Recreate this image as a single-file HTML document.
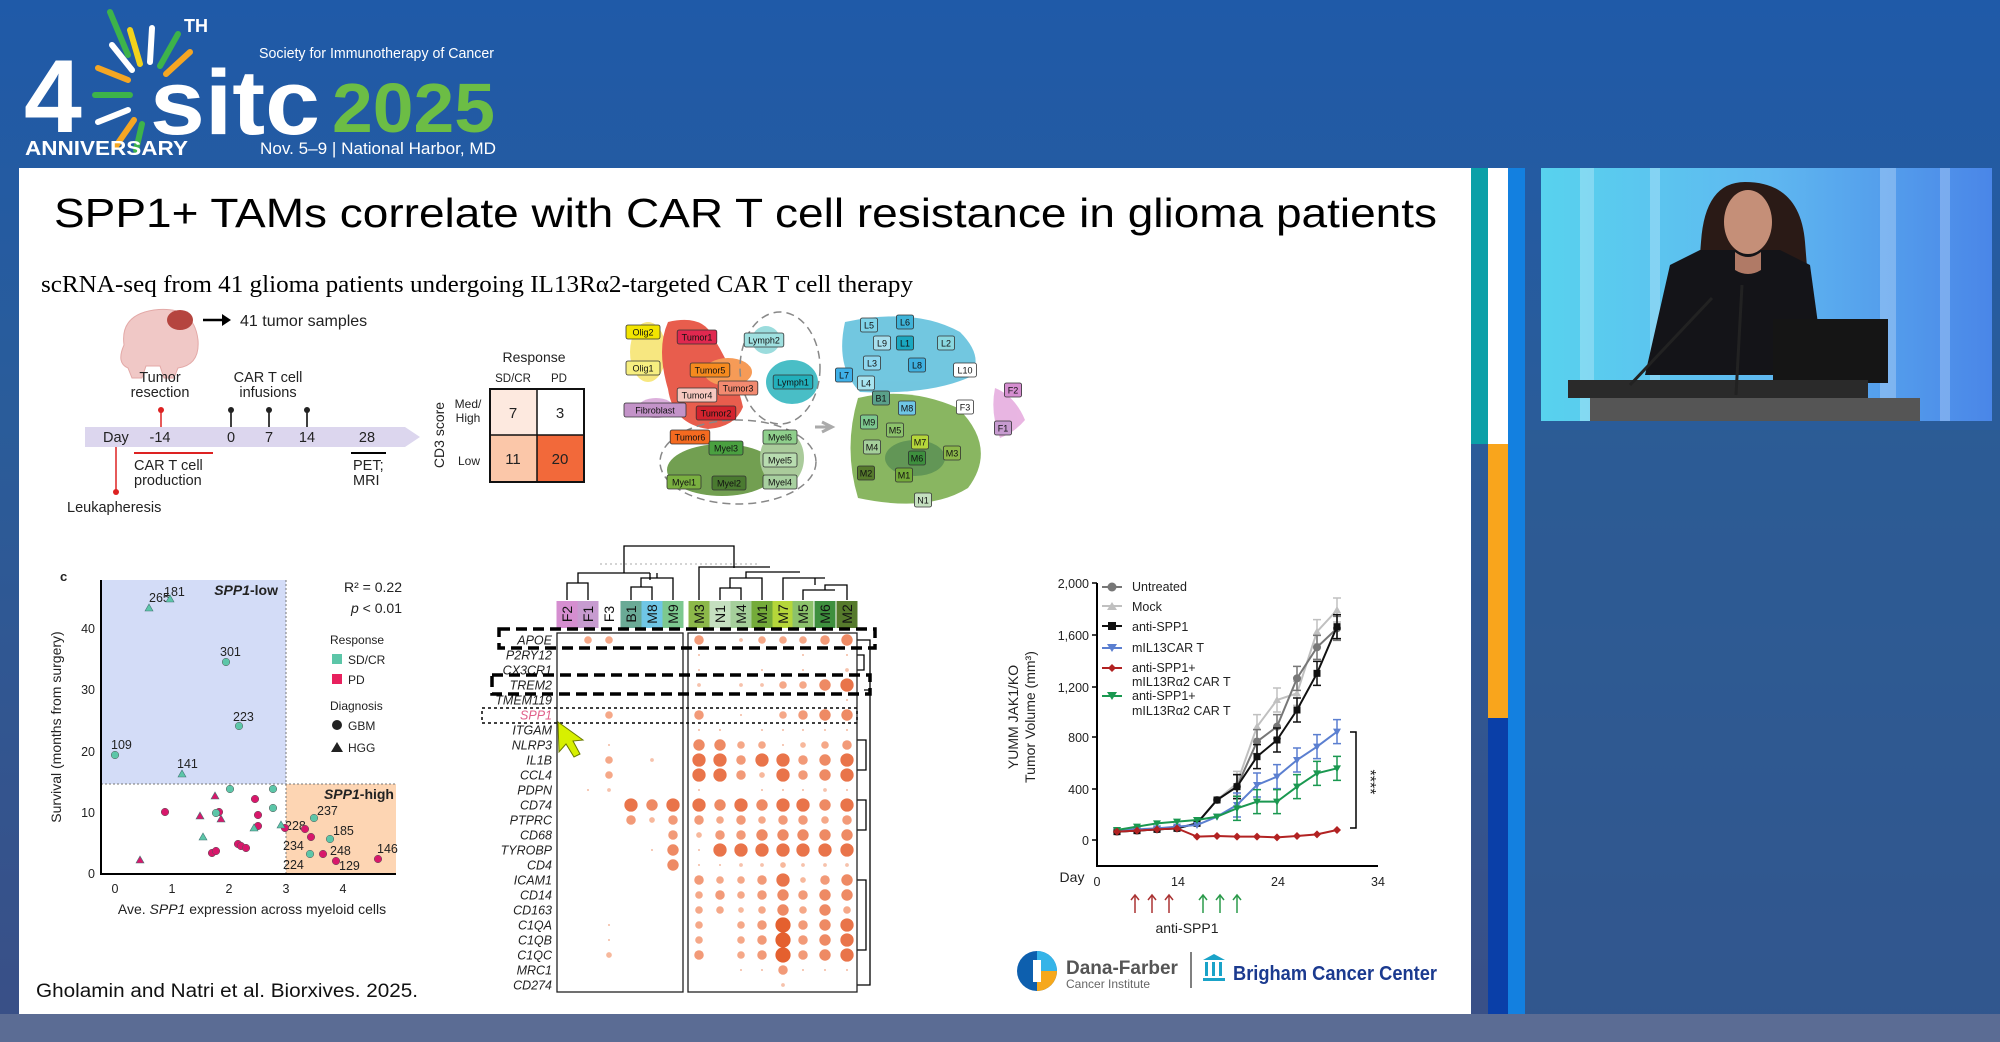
<!DOCTYPE html>
<html><head><meta charset="utf-8"><style>
html,body{margin:0;padding:0;width:2000px;height:1042px;overflow:hidden;background:#2458a0}
svg{display:block}
text{font-family:"Liberation Sans",Arial,sans-serif}
</style></head><body>
<svg id="s" width="2000" height="1042" viewBox="0 0 2000 1042" xmlns="http://www.w3.org/2000/svg">
<defs>
<linearGradient id="bg" x1="0" y1="0" x2="0" y2="1">
<stop offset="0" stop-color="#1f5aa8"/><stop offset="0.4" stop-color="#2a5c9a"/><stop offset="1" stop-color="#3a4f86"/></linearGradient>
<linearGradient id="cur" x1="0" y1="0" x2="1" y2="0">
<stop offset="0" stop-color="#58d2ee"/><stop offset="0.5" stop-color="#5fb8f0"/><stop offset="1" stop-color="#4a86e8"/></linearGradient>
</defs>
<rect width="2000" height="1042" fill="url(#bg)"/>
<rect x="1524" y="430" width="476" height="612" fill="#2d5b93" opacity="0.6"/>
<rect x="0" y="1014" width="2000" height="28" fill="#5b6c94"/>

<!-- header logo -->
<text x="24" y="132" font-size="104" font-weight="bold" fill="#fff">4</text>
<g stroke-width="6" stroke-linecap="round">
<line x1="130" y1="95" x2="95" y2="95" stroke="#3db34a"/><line x1="128" y1="80" x2="98" y2="68" stroke="#f5a623"/>
<line x1="132" y1="70" x2="112" y2="45" stroke="#fff"/><line x1="140" y1="64" x2="130" y2="30" stroke="#f2d21b"/>
<line x1="150" y1="62" x2="152" y2="28" stroke="#fff"/><line x1="160" y1="66" x2="178" y2="34" stroke="#3db34a"/>
<line x1="166" y1="74" x2="190" y2="52" stroke="#f5a623"/><line x1="128" y1="110" x2="98" y2="122" stroke="#fff"/>
<line x1="134" y1="120" x2="116" y2="146" stroke="#f5a623"/><line x1="142" y1="124" x2="136" y2="150" stroke="#3db34a"/>
<line x1="110" y1="12" x2="128" y2="55" stroke="#3db34a"/>
</g>
<text x="184" y="32" font-size="18" font-weight="bold" fill="#fff">TH</text>
<text x="150" y="134" font-size="92" font-weight="bold" fill="#fff" textLength="170" lengthAdjust="spacingAndGlyphs">sitc</text>
<text x="332" y="132" font-size="70" font-weight="bold" fill="#6cbd45" textLength="163" lengthAdjust="spacingAndGlyphs">2025</text>
<text x="259" y="58" font-size="15" fill="#fff" textLength="235" lengthAdjust="spacingAndGlyphs">Society for Immunotherapy of Cancer</text>
<text x="260" y="154" font-size="17" fill="#fff" textLength="236" lengthAdjust="spacingAndGlyphs">Nov. 5–9 | National Harbor, MD</text>
<text x="25" y="155" font-size="20" font-weight="bold" fill="#fff" textLength="163" lengthAdjust="spacingAndGlyphs">ANNIVERSARY</text>

<!-- slide -->
<rect x="19" y="168" width="1452" height="846" fill="#fff"/>
<rect x="1471" y="168" width="17" height="276" fill="#0aa0a8"/>
<rect x="1488" y="168" width="20" height="276" fill="#fff"/>
<rect x="1488" y="444" width="20" height="274" fill="#f9a51c"/>
<rect x="1488" y="718" width="20" height="296" fill="#0a3fa8"/>
<rect x="1508" y="168" width="17" height="846" fill="#1380e0"/>

<!-- video -->
<rect x="1541" y="168" width="451" height="253" fill="url(#cur)"/>
<g opacity="0.25" fill="#fff"><rect x="1580" y="168" width="14" height="253"/><rect x="1650" y="168" width="10" height="253"/><rect x="1880" y="168" width="16" height="253"/><rect x="1940" y="168" width="10" height="253"/></g>
<path d="M1745 182 q-40 0 -44 60 l-8 100 l70 20 l50 -20 l-8 -100 q-5 -60 -60 -60z" fill="#2a1a16"/>
<path d="M1700 250 l-30 15 l-25 110 l180 0 l-15 -110 l-30 -15z" fill="#141418"/>
<ellipse cx="1748" cy="222" rx="24" ry="32" fill="#c58f78"/>
<path d="M1735 252 q13 10 26 0 l0 18 q-13 8 -26 0z" fill="#b07a66"/>
<rect x="1773" y="319" width="115" height="64" fill="#151515"/>
<rect x="1568" y="380" width="300" height="18" fill="#2a2a2a"/>
<rect x="1590" y="398" width="330" height="23" fill="#555"/>
<line x1="1712" y1="298" x2="1630" y2="385" stroke="#222" stroke-width="3"/>
<line x1="1742" y1="285" x2="1736" y2="395" stroke="#222" stroke-width="3"/>

<!-- title -->
<text x="54" y="227" font-size="41" fill="#000" textLength="1383" lengthAdjust="spacingAndGlyphs">SPP1+ TAMs correlate with CAR T cell resistance in glioma patients</text>
<text x="41" y="292" font-size="24" fill="#000" style="font-family:'Liberation Serif',serif" textLength="872" lengthAdjust="spacingAndGlyphs">scRNA-seq from 41 glioma patients undergoing IL13Rα2-targeted CAR T cell therapy</text>

<!-- timeline -->
<g font-size="14.5" fill="#222">
<path d="M124 345 q-4 -30 30 -35 q40 -5 44 30 q2 25 -20 28 l-4 10 l-10 0 l-4 -12 l-14 0 l-4 12 l-10 0 l-4 -10 q-12 -5 -4 -23z" fill="#f0c8c6" stroke="#e3a9a7"/>
<ellipse cx="180" cy="320" rx="13" ry="10" fill="#b5453f"/>
<line x1="203" y1="320" x2="222" y2="320" stroke="#000" stroke-width="2.5"/><path d="M222 314 l9 6 -9 6z" fill="#000"/>
<text x="240" y="326" font-size="16">41 tumor samples</text>
<text x="160" y="382" text-anchor="middle">Tumor</text><text x="160" y="397" text-anchor="middle">resection</text>
<text x="268" y="382" text-anchor="middle">CAR T cell</text><text x="268" y="397" text-anchor="middle">infusions</text>
<line x1="161" y1="410" x2="161" y2="427" stroke="#d22" stroke-width="1.5"/><circle cx="161" cy="410" r="3" fill="#d22"/>
<g stroke="#000" stroke-width="1.5"><line x1="231" y1="410" x2="231" y2="427"/><line x1="269" y1="410" x2="269" y2="427"/><line x1="307" y1="410" x2="307" y2="427"/></g>
<circle cx="231" cy="410" r="3"/><circle cx="269" cy="410" r="3"/><circle cx="307" cy="410" r="3"/>
<path d="M85 427 L405 427 L420 437 L405 447 L85 447Z" fill="#dcd6ee"/>
<text x="103" y="442">Day</text><text x="160" y="442" text-anchor="middle">-14</text><text x="231" y="442" text-anchor="middle">0</text>
<text x="269" y="442" text-anchor="middle">7</text><text x="307" y="442" text-anchor="middle">14</text><text x="367" y="442" text-anchor="middle">28</text>
<line x1="134" y1="453" x2="213" y2="453" stroke="#d22" stroke-width="2"/>
<text x="134" y="470">CAR T cell</text><text x="134" y="485">production</text>
<line x1="351" y1="453" x2="386" y2="453" stroke="#000" stroke-width="2"/>
<text x="353" y="470">PET;</text><text x="353" y="485">MRI</text>
<line x1="116" y1="447" x2="116" y2="492" stroke="#d22" stroke-width="1.5"/><circle cx="116" cy="492" r="3" fill="#d22"/>
<text x="67" y="512">Leukapheresis</text>
</g>

<!-- response table -->
<g font-size="13" fill="#222">
<text x="534" y="362" text-anchor="middle" font-size="14">Response</text>
<text x="513" y="382" text-anchor="middle" font-size="11.5">SD/CR</text><text x="559" y="382" text-anchor="middle" font-size="11.5">PD</text>
<rect x="490" y="389" width="47" height="46" fill="#fde9df"/><rect x="537" y="389" width="47" height="46" fill="#fff"/>
<rect x="490" y="435" width="47" height="47" fill="#fbc7a9"/><rect x="537" y="435" width="47" height="47" fill="#f2693a"/>
<rect x="490" y="389" width="94" height="93" fill="none" stroke="#111" stroke-width="2"/>
<line x1="537" y1="389" x2="537" y2="482" stroke="#111" stroke-width="1.5"/><line x1="490" y1="435" x2="584" y2="435" stroke="#111" stroke-width="1.5"/>
<text x="513" y="418" text-anchor="middle" font-size="15">7</text><text x="560" y="418" text-anchor="middle" font-size="15">3</text>
<text x="513" y="464" text-anchor="middle" font-size="15">11</text><text x="560" y="464" text-anchor="middle" font-size="15">20</text>
<text x="468" y="408" text-anchor="middle" font-size="12">Med/</text><text x="468" y="422" text-anchor="middle" font-size="12">High</text>
<text x="469" y="465" text-anchor="middle" font-size="12">Low</text>
<text transform="translate(444 435) rotate(-90)" text-anchor="middle" font-size="14">CD3 score</text>
</g>

<!-- UMAP left -->
<g opacity="0.85">
<ellipse cx="648" cy="352" rx="18" ry="30" fill="#f6e36a"/>
<path d="M668 322 q35 -8 45 15 q22 35 30 70 q-8 20 -35 22 q-35 -5 -40 -40 q-12 -40 0 -67z" fill="#e5412e"/>
<ellipse cx="728" cy="372" rx="24" ry="14" fill="#f58a3a"/>
<ellipse cx="766" cy="340" rx="14" ry="14" fill="#8ad7d8"/>
<ellipse cx="792" cy="382" rx="26" ry="22" fill="#2ab3bd"/>
<ellipse cx="656" cy="408" rx="18" ry="10" fill="#d7a3d6"/>
<ellipse cx="722" cy="470" rx="55" ry="26" fill="#5a8f33"/>
<ellipse cx="782" cy="458" rx="22" ry="28" fill="#9cc28a"/>
</g>
<ellipse cx="780" cy="368" rx="40" ry="56" fill="none" stroke="#888" stroke-width="1.5" stroke-dasharray="8 5"/>
<ellipse cx="738" cy="462" rx="78" ry="42" fill="none" stroke="#888" stroke-width="1.5" stroke-dasharray="8 5"/>
<path d="M822 422 l10 5 -10 5 M815 427 h17" stroke="#aaa" stroke-width="3" fill="none"/>
<!-- UMAP right -->
<g opacity="0.8">
<path d="M845 322 q70 -15 115 10 q25 25 10 45 q-40 18 -110 15 q-25 -25 -15 -70z" fill="#4fb9d8"/>
<path d="M858 398 q50 -12 100 10 q40 40 10 80 q-40 25 -110 10 q-15 -50 0 -100z" fill="#6ca53a"/>
<ellipse cx="915" cy="458" rx="30" ry="18" fill="#3b7d2c"/>
<path d="M995 388 q20 8 30 32 q-10 12 -25 18 q-10 -25 -5 -50z" fill="#e3a3db"/>
</g>
<g id="umaplabels" font-size="9" text-anchor="middle"></g>

<!-- scatter -->
<g>
<rect x="101" y="580" width="185" height="204" fill="#d3dcf7"/>
<rect x="286" y="784" width="110" height="90" fill="#fdd5b3"/>
<line x1="286" y1="580" x2="286" y2="874" stroke="#777" stroke-dasharray="2 2"/>
<line x1="101" y1="784" x2="396" y2="784" stroke="#777" stroke-dasharray="2 2"/>
<path d="M101 580 V874 H396" fill="none" stroke="#000" stroke-width="2"/>
<g font-size="12.5" fill="#222">
<text x="60" y="581" font-weight="bold" font-size="13">c</text>
<text x="95" y="878" text-anchor="end">0</text><text x="95" y="817" text-anchor="end">10</text><text x="95" y="756" text-anchor="end">20</text><text x="95" y="694" text-anchor="end">30</text><text x="95" y="633" text-anchor="end">40</text>
<text x="115" y="893" text-anchor="middle">0</text><text x="172" y="893" text-anchor="middle">1</text><text x="229" y="893" text-anchor="middle">2</text><text x="286" y="893" text-anchor="middle">3</text><text x="343" y="893" text-anchor="middle">4</text>
<text x="252" y="914" text-anchor="middle" font-size="14">Ave. <tspan font-style="italic">SPP1</tspan> expression across myeloid cells</text>
<text transform="translate(61 727) rotate(-90)" text-anchor="middle" font-size="14">Survival (months from surgery)</text>
<text x="278" y="595" text-anchor="end" font-size="14" font-weight="bold"><tspan font-style="italic">SPP1</tspan>-low</text>
<text x="394" y="799" text-anchor="end" font-size="14" font-weight="bold"><tspan font-style="italic">SPP1</tspan>-high</text>
<text x="402" y="592" text-anchor="end" font-size="14">R² = 0.22</text>
<text x="402" y="613" text-anchor="end" font-size="14"><tspan font-style="italic">p</tspan> &lt; 0.01</text>
<text x="330" y="644" font-size="12">Response</text>
<rect x="332" y="654" width="10" height="10" fill="#5cc6a8"/><text x="348" y="664" font-size="12">SD/CR</text>
<rect x="332" y="674" width="10" height="10" fill="#e8215e"/><text x="348" y="684" font-size="12">PD</text>
<text x="330" y="710" font-size="12">Diagnosis</text>
<circle cx="337" cy="725" r="5"/><text x="348" y="730" font-size="12">GBM</text>
<path d="M331 752 l6 -10 6 10z"/><text x="348" y="752" font-size="12">HGG</text>
<text x="149" y="602">265</text><text x="164" y="596">181</text><text x="220" y="656">301</text><text x="233" y="721">223</text><text x="111" y="749">109</text><text x="177" y="768">141</text>
<text x="317" y="815">237</text><text x="285" y="830">228</text><text x="333" y="835">185</text><text x="283" y="850">234</text><text x="330" y="855">248</text><text x="377" y="853">146</text><text x="283" y="869">224</text><text x="339" y="870">129</text>
</g>
<g id="pts"></g>
</g>

<!-- dot plot -->
<g id="dp"></g>
<g stroke="#000" stroke-width="1.3" fill="none">
<path d="M624 573 V546 H734 V568"/>
<path d="M567 600 V583 H588 V600 M578 583 V573 H650 M650 573 V580 M631 600 V587 H652 V600 M641 587 V578 H673 V600 M657 578 V573"/>
<path d="M699 600 V567 H770 M720 600 V588 H741 V600 M730 588 V578 H762 V600 M746 578 V572 H800 M783 600 V578 H825 M803 600 V590 H835 M825 590 V585 H847 V600 M815 585 V578"/>
<path d="M857 640 H870 V985 H857 M857 655 H864 V670 H857 M864 690 H870 M857 740 H866 V770 H857 M857 800 H866 V830 H857 M857 880 H866 V950 H857"/>
</g>
<line x1="600" y1="564" x2="760" y2="564" stroke="#aaa" stroke-dasharray="2 3"/>
<rect x="557" y="633" width="126" height="359" fill="none" stroke="#222" stroke-width="1.3"/>
<rect x="688" y="633" width="169" height="359" fill="none" stroke="#222" stroke-width="1.3"/>
<g fill="none" stroke="#000">
<rect x="499" y="629" width="376" height="19" stroke-width="3.5" stroke-dasharray="11 6"/>
<rect x="492" y="675" width="378" height="19" stroke-width="3.5" stroke-dasharray="11 6"/>
<rect x="482" y="708" width="375" height="15" stroke-width="1.5" stroke-dasharray="3 3"/>
</g>
<path d="M558 722 L559 752 L566 744 L574 757 L580 754 L573 741 L583 740Z" fill="#d7f000" stroke="#6a7a00" stroke-width="1"/>

<!-- line chart -->
<g font-size="12.5" fill="#222">
<path d="M1097 583 V866 H1378" fill="none" stroke="#000" stroke-width="2"/>
<g stroke="#000" stroke-width="1.5"><line x1="1092" y1="583" x2="1097" y2="583"/><line x1="1092" y1="635" x2="1097" y2="635"/><line x1="1092" y1="687" x2="1097" y2="687"/><line x1="1092" y1="737" x2="1097" y2="737"/><line x1="1092" y1="789" x2="1097" y2="789"/><line x1="1092" y1="840" x2="1097" y2="840"/></g>
<text x="1089" y="588" text-anchor="end">2,000</text><text x="1089" y="640" text-anchor="end">1,600</text><text x="1089" y="692" text-anchor="end">1,200</text><text x="1089" y="742" text-anchor="end">800</text><text x="1089" y="794" text-anchor="end">400</text><text x="1089" y="845" text-anchor="end">0</text>
<text x="1072" y="882" text-anchor="middle" font-size="14">Day</text>
<text x="1097" y="886" text-anchor="middle">0</text><text x="1178" y="886" text-anchor="middle">14</text><text x="1278" y="886" text-anchor="middle">24</text><text x="1378" y="886" text-anchor="middle">34</text>
<text transform="translate(1018 717) rotate(-90)" text-anchor="middle" font-size="14">YUMM JAK1/KO</text>
<text transform="translate(1035 717) rotate(-90)" text-anchor="middle" font-size="14">Tumor Volume (mm³)</text>
<text x="1132" y="591">Untreated</text><text x="1132" y="611">Mock</text><text x="1132" y="631">anti-SPP1</text><text x="1132" y="652">mIL13CAR T</text>
<text x="1132" y="672">anti-SPP1+</text><text x="1132" y="686">mIL13Rα2 CAR T</text><text x="1132" y="700">anti-SPP1+</text><text x="1132" y="715">mIL13Rα2 CAR T</text>
<path d="M1350 732 H1356 V828 H1350" fill="none" stroke="#000" stroke-width="1.5"/>
<text transform="translate(1365 782) rotate(90)" text-anchor="middle" font-size="16">****</text>
<text x="1187" y="933" text-anchor="middle" font-size="14">anti-SPP1</text>
</g>
<g id="lc"></g>
<g stroke-width="1.5">
<g stroke="#a33"><line x1="1135" y1="895" x2="1135" y2="913"/><line x1="1152" y1="895" x2="1152" y2="913"/><line x1="1169" y1="895" x2="1169" y2="913"/></g>
<g stroke="#2a9a4a"><line x1="1203" y1="895" x2="1203" y2="913"/><line x1="1220" y1="895" x2="1220" y2="913"/><line x1="1237" y1="895" x2="1237" y2="913"/></g>
</g>
<g fill="none" stroke-width="1.5"><path d="M1131 900 l4 -5 4 5 M1148 900 l4 -5 4 5 M1165 900 l4 -5 4 5" stroke="#a33"/><path d="M1199 900 l4 -5 4 5 M1216 900 l4 -5 4 5 M1233 900 l4 -5 4 5" stroke="#2a9a4a"/></g>

<!-- logos -->
<circle cx="1037" cy="971" r="20" fill="#0d5fae"/>
<path d="M1037 951 a20 20 0 0 1 20 20 h-20z" fill="#35b4e8"/>
<path d="M1037 971 h20 a20 20 0 0 1 -20 20z" fill="#f6a81c"/>
<rect x="1033" y="960" width="8" height="22" fill="#fff"/>
<text x="1066" y="974" font-size="19" font-weight="bold" fill="#555">Dana-Farber</text>
<text x="1066" y="988" font-size="12" fill="#666">Cancer Institute</text>
<line x1="1191" y1="952" x2="1191" y2="988" stroke="#555" stroke-width="1.5"/>
<g fill="#1aa3c8"><path d="M1203 960 l11 -6 11 6z"/><rect x="1205" y="962" width="3" height="14"/><rect x="1212" y="962" width="3" height="14"/><rect x="1219" y="962" width="3" height="14"/><rect x="1203" y="978" width="22" height="3"/></g>
<text x="1233" y="980" font-size="20" font-weight="bold" fill="#1b3a8f" textLength="204" lengthAdjust="spacingAndGlyphs">Brigham Cancer Center</text>

<text x="36" y="997" font-size="19" fill="#111" textLength="382" lengthAdjust="spacingAndGlyphs">Gholamin and Natri et al. Biorxives. 2025.</text>
</svg>
<script>
var NS="http://www.w3.org/2000/svg";
function el(p,t,a,txt){var e=document.createElementNS(NS,t);for(var k in a)e.setAttribute(k,a[k]);if(txt!=null)e.textContent=txt;p.appendChild(e);return e;}
var L=document.getElementById('umaplabels');
var lab=[["Olig2",643,332,"#f2e400"],["Tumor1",697,337,"#e0284f"],["Lymph2",764,340,"#9fe0e0"],["Olig1",643,368,"#f6ee80"],["Tumor5",710,370,"#f58a1e"],["Lymph1",793,382,"#22b0bb"],["Tumor3",738,388,"#f38a70"],["Tumor4",697,395,"#f7c8c0"],["Fibroblast",655,410,"#c393c8"],["Tumor2",716,413,"#d3232e"],["Tumor6",690,437,"#f46a20"],["Myel6",780,437,"#8fcf8c"],["Myel3",726,448,"#4aa040"],["Myel5",780,460,"#b8dcb0"],["Myel1",684,482,"#7ab040"],["Myel2",729,483,"#4a7a30"],["Myel4",780,482,"#a8d0a0"],
["L5",869,325,"#7fd3e8"],["L6",905,322,"#3fb3d8"],["L9",882,343,"#a8e0ee"],["L1",905,343,"#1aa8c0"],["L2",946,343,"#8ad8e0"],["L3",872,363,"#8fd8f0"],["L8",917,365,"#3fb0e0"],["L10",965,370,"#fff"],["L7",844,375,"#3fb0e8"],["L4",866,383,"#a8e4f0"],["F2",1013,390,"#d58ed0"],["B1",881,398,"#5aa08a"],["M8",907,408,"#6fc6e6"],["F3",965,407,"#fff"],["M9",869,422,"#7dc88f"],["M5",895,430,"#8cc26b"],["F1",1003,428,"#c79bd0"],["M7",920,442,"#b5d63a"],["M4",872,447,"#a5cf9b"],["M3",952,453,"#8cb84a"],["M6",917,458,"#3e8f3e"],["M2",866,473,"#567a2c"],["M1",904,475,"#74ab3a"],["N1",923,500,"#c5e0c0"]];
lab.forEach(function(a){var w=a[0].length*5.6+6;el(L,'rect',{x:a[1]-w/2,y:a[2]-7,width:w,height:14,rx:2,fill:a[3],stroke:'#333','stroke-width':0.8});el(L,'text',{x:a[1],y:a[2]+3.5,fill:'#111'},a[0]);});
var P=document.getElementById('pts');var T='#5cc6a8',R='#d8176b';
var pts=[[149,608,T,1],[170,599,T,1],[226,662,T,0],[239,726,T,0],[115,755,T,0],[182,774,T,1],[314,818,T,0],[330,839,T,0],[310,854,T,0],[323,854,R,0],[378,859,R,0],[336,861,R,0],[305,829,R,0],[311,837,R,0],[285,828,R,0],
[140,860,R,1],[165,812,R,0],[200,816,R,1],[215,796,R,1],[219,812,R,0],[221,819,R,1],[216,813,T,0],[203,837,T,1],[212,853,R,0],[216,851,R,0],[230,789,T,0],[238,844,R,0],[241,846,R,0],[246,848,R,0],[255,799,R,0],[258,815,R,0],[258,826,R,0],[273,789,T,0],[273,808,T,0],[254,828,T,1],[281,825,T,1]];
pts.forEach(function(p){if(p[3])el(P,'path',{d:'M'+(p[0]-4)+' '+(p[1]+3)+' l4 -7 4 7z',fill:p[2],stroke:'#477','stroke-width':0.6});else el(P,'circle',{cx:p[0],cy:p[1],r:3.8,fill:p[2],stroke:'#555','stroke-width':0.5});});
var D=document.getElementById('dp');
var cols=[["F2",567,"#d58ed0"],["F1",588,"#c79bd0"],["F3",609,"#fff"],["B1",631,"#6aaa96"],["M8",652,"#6fc6e6"],["M9",673,"#7dc88f"],["M3",699,"#8cb84a"],["N1",720,"#c5e0c0"],["M4",741,"#a5cf9b"],["M1",762,"#74ab3a"],["M7",783,"#b5d63a"],["M5",803,"#8cc26b"],["M6",825,"#3e8f3e"],["M2",847,"#567a2c"]];
cols.forEach(function(c){el(D,'rect',{x:c[1]-10.5,y:601,width:21,height:27,fill:c[2]});el(D,'text',{transform:'translate('+(c[1]+5)+' 614) rotate(-90)','text-anchor':'middle','font-size':14,fill:'#111'},c[0]);});
var rows=[["APOE","04400050244456"],["P2RY12","00000010000101"],["CX3CR1","00000010010102"],["TREM2","00000020224467"],["TMEM119","00000000000001"],["SPP1","00400050104566"],["ITGAM","00000011011111"],["NLRP3","00100066441345"],["IL1B","00402077577567"],["CCL4","00400077537567"],["PDPN","01200010011121"],["CD74","00076776767767"],["PTPRC","00053554545545"],["CD68","00000535566666"],["TYROBP","00001617777777"],["CD4","00000611223222"],["ICAM1","00000054457356"],["CD14","00000045456566"],["CD163","00000044346464"],["C1QA","00100040458567"],["C1QB","00100040458567"],["C1QC","00300050458567"],["MRC1","00000000115111"],["CD274","00000000002000"]];
var cl=['#fff','#f3b49a','#f6c2ac','#f7b89c','#f5a888','#f29a78','#ee8a64','#e9744a','#e4602f'];
rows.forEach(function(r,i){var y=640+i*15.0;el(D,'text',{x:552,y:y+4.5,'text-anchor':'end','font-size':12.5,'font-style':'italic',fill:r[0]=="SPP1"?'#e0608a':'#222'},r[0]);
for(var j=0;j<14;j++){var v=+r[1][j];if(v>0)el(D,'circle',{cx:cols[j][1],cy:y,r:v*0.95,fill:cl[v]});}});
var C=document.getElementById('lc');
var xs=[1117,1137,1157,1177,1197,1217,1237,1257,1277,1297,1317,1337];
function Y(z){return 560+z/3;}
var ser=[["#c0c0c0",[815,812,808,805,790,720,670,500,420,400,215,150],'tri'],["#777",[815,812,808,805,790,720,680,545,500,355,262,205],'c'],["#111",[815,812,808,805,790,720,680,590,540,450,340,200],'s'],["#5b7fd0",[810,808,805,800,795,770,735,675,650,600,560,515],'v'],["#1a9850",[810,800,790,785,780,770,745,725,725,680,640,625],'v'],["#b22222",[815,812,808,805,830,828,830,830,832,828,823,810],'d']];
ser.forEach(function(s){var d='';s[1].forEach(function(z,i){d+=(i?'L':'M')+xs[i]+' '+Y(z);});el(C,'path',{d:d,fill:'none',stroke:s[0],'stroke-width':2});
s[1].forEach(function(z,i){var x=xs[i],y=Y(z);if(i>5&&s[2]!='d')el(C,'path',{d:'M'+x+' '+(y-12)+'V'+(y+12)+'M'+(x-4)+' '+(y-12)+'h8M'+(x-4)+' '+(y+12)+'h8',stroke:s[0],'stroke-width':1.5});
if(s[2]=='c')el(C,'circle',{cx:x,cy:y,r:4,fill:s[0]});else if(s[2]=='s')el(C,'rect',{x:x-3.5,y:y-3.5,width:7,height:7,fill:s[0]});else if(s[2]=='tri')el(C,'path',{d:'M'+(x-4)+' '+(y+3)+'l4 -7 4 7z',fill:s[0]});else if(s[2]=='v')el(C,'path',{d:'M'+(x-4)+' '+(y-3)+'l4 7 4 -7z',fill:s[0]});else el(C,'path',{d:'M'+x+' '+(y-4)+'l4 4 -4 4 -4 -4z',fill:s[0]});});});
var leg=[[587,"#777",'c'],[606,"#c0c0c0",'tri'],[626,"#111",'s'],[648,"#5b7fd0",'v'],[668,"#b22222",'d'],[696,"#1a9850",'v']];
leg.forEach(function(l){var x=1112,y=l[0];el(C,'line',{x1:1102,y1:y,x2:1122,y2:y,stroke:l[1],'stroke-width':2});
if(l[2]=='c')el(C,'circle',{cx:x,cy:y,r:4.5,fill:l[1]});else if(l[2]=='s')el(C,'rect',{x:x-4,y:y-4,width:8,height:8,fill:l[1]});else if(l[2]=='tri')el(C,'path',{d:'M'+(x-5)+' '+(y+4)+'l5 -8 5 8z',fill:l[1]});else if(l[2]=='v')el(C,'path',{d:'M'+(x-5)+' '+(y-4)+'l5 8 5 -8z',fill:l[1]});else el(C,'path',{d:'M'+x+' '+(y-4)+'l4 4 -4 4 -4 -4z',fill:l[1]});});
</script>
</body></html>
